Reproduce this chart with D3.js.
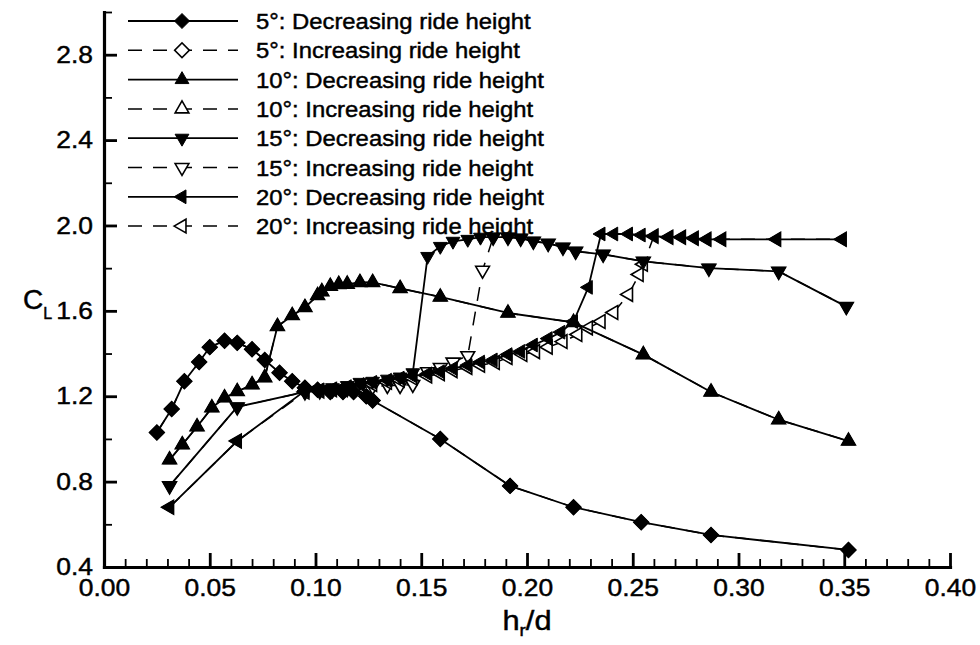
<!DOCTYPE html>
<html>
<head>
<meta charset="utf-8">
<script src="https://cdn.jsdelivr.net/npm/d3@7"></script>
<style>
  body { margin: 0; background: #fff; }
  svg { display: block; }
  text { font-family: "Liberation Sans", Arial, Helvetica, sans-serif; fill: #000; stroke: #000; stroke-width: 0.45px; }
</style>
</head>
<body>
<svg id="chart" width="980" height="645"></svg>
<script>
// Axis ticks
var x_ticks = [0.00, 0.05, 0.10, 0.15, 0.20, 0.25, 0.30, 0.35, 0.40];
var y_ticks = [0.4, 0.8, 1.2, 1.6, 2.0, 2.4, 2.8];
var y_minor = [0.6, 1.0, 1.4, 1.8, 2.2, 2.6, 3.0];

var legend_labels = [
  "5°: Decreasing ride height", "5°: Increasing ride height",
  "10°: Decreasing ride height", "10°: Increasing ride height",
  "15°: Decreasing ride height", "15°: Increasing ride height",
  "20°: Decreasing ride height", "20°: Increasing ride height"
];

// 5 deg
var h5_dec = [0.025, 0.032, 0.038, 0.045, 0.050, 0.057, 0.063, 0.070, 0.076, 0.083, 0.089, 0.095, 0.101, 0.107, 0.113, 0.118, 0.124, 0.127, 0.159, 0.192, 0.222, 0.254, 0.287, 0.352];
var cl5_dec = [1.03, 1.14, 1.27, 1.36, 1.43, 1.46, 1.45, 1.42, 1.37, 1.31, 1.27, 1.24, 1.23, 1.22, 1.22, 1.22, 1.20, 1.18, 1.00, 0.78, 0.68, 0.61, 0.55, 0.48];
var h5_inc = [0.025, 0.032, 0.038, 0.045, 0.050, 0.057, 0.063, 0.070, 0.076, 0.083, 0.089, 0.095, 0.101, 0.107, 0.113, 0.118, 0.124, 0.127, 0.159, 0.192, 0.222, 0.254, 0.287, 0.352];
var cl5_inc = [1.03, 1.14, 1.27, 1.36, 1.43, 1.46, 1.45, 1.42, 1.37, 1.31, 1.27, 1.24, 1.23, 1.22, 1.22, 1.22, 1.20, 1.18, 1.00, 0.78, 0.68, 0.61, 0.55, 0.48];

// 10 deg
var h10_dec = [0.352, 0.319, 0.287, 0.255, 0.222, 0.191, 0.159, 0.140, 0.127, 0.121, 0.115, 0.111, 0.107, 0.103, 0.101, 0.095, 0.089, 0.082, 0.076, 0.070, 0.063, 0.057, 0.051, 0.044, 0.037, 0.031];
var cl10_dec = [0.99, 1.09, 1.22, 1.395, 1.546, 1.59, 1.665, 1.705, 1.733, 1.733, 1.725, 1.724, 1.715, 1.69, 1.672, 1.616, 1.578, 1.527, 1.287, 1.254, 1.222, 1.193, 1.146, 1.057, 0.973, 0.902];
var h10_inc = [0.031, 0.037, 0.044, 0.051, 0.057, 0.063, 0.070, 0.076, 0.082, 0.089, 0.095, 0.101, 0.103, 0.107, 0.111, 0.115, 0.121, 0.127, 0.140, 0.159, 0.191, 0.222, 0.255, 0.287, 0.319, 0.352];
var cl10_inc = [0.902, 0.973, 1.057, 1.146, 1.193, 1.222, 1.254, 1.287, 1.527, 1.578, 1.616, 1.672, 1.69, 1.715, 1.724, 1.725, 1.733, 1.733, 1.705, 1.665, 1.59, 1.546, 1.395, 1.22, 1.09, 0.99];

// 15 deg
var h15_dec = [0.351, 0.319, 0.286, 0.255, 0.236, 0.223, 0.217, 0.210, 0.203, 0.197, 0.191, 0.184, 0.178, 0.172, 0.165, 0.159, 0.153, 0.146, 0.140, 0.134, 0.127, 0.121, 0.115, 0.108, 0.102, 0.095, 0.063, 0.031];
var cl15_dec = [1.62, 1.785, 1.80, 1.832, 1.865, 1.879, 1.898, 1.916, 1.926, 1.94, 1.945, 1.945, 1.945, 1.935, 1.926, 1.902, 1.855, 1.31, 1.29, 1.28, 1.27, 1.265, 1.25, 1.24, 1.23, 1.22, 1.15, 0.78];
var h15_inc = [0.031, 0.063, 0.095, 0.102, 0.108, 0.115, 0.121, 0.127, 0.134, 0.140, 0.146, 0.153, 0.159, 0.165, 0.172, 0.179, 0.184, 0.191, 0.197, 0.203, 0.210, 0.217, 0.223, 0.236, 0.255, 0.286, 0.319, 0.351];
var cl15_inc = [0.78, 1.15, 1.22, 1.225, 1.23, 1.235, 1.24, 1.245, 1.25, 1.25, 1.255, 1.315, 1.335, 1.36, 1.39, 1.79, 1.945, 1.945, 1.94, 1.926, 1.916, 1.898, 1.879, 1.865, 1.832, 1.80, 1.785, 1.62];

// 20 deg
var h20_dec = [0.349, 0.318, 0.292, 0.285, 0.279, 0.273, 0.267, 0.260, 0.254, 0.248, 0.241, 0.235, 0.229, 0.222, 0.216, 0.210, 0.203, 0.197, 0.191, 0.184, 0.178, 0.172, 0.165, 0.159, 0.153, 0.146, 0.140, 0.134, 0.127, 0.121, 0.115, 0.108, 0.102, 0.095, 0.063, 0.031];
var cl20_dec = [1.935, 1.935, 1.935, 1.935, 1.94, 1.945, 1.945, 1.95, 1.955, 1.96, 1.96, 1.96, 1.71, 1.55, 1.50, 1.47, 1.44, 1.41, 1.395, 1.37, 1.36, 1.345, 1.33, 1.315, 1.305, 1.295, 1.285, 1.275, 1.265, 1.255, 1.245, 1.235, 1.23, 1.225, 0.99, 0.68];
var h20_inc = [0.031, 0.063, 0.095, 0.102, 0.108, 0.115, 0.121, 0.127, 0.134, 0.140, 0.146, 0.153, 0.159, 0.165, 0.172, 0.178, 0.185, 0.191, 0.198, 0.204, 0.210, 0.217, 0.224, 0.229, 0.235, 0.241, 0.248, 0.253, 0.255, 0.260, 0.267, 0.273, 0.279, 0.285, 0.292, 0.318, 0.349];
var cl20_inc = [0.68, 0.99, 1.22, 1.225, 1.23, 1.235, 1.245, 1.255, 1.265, 1.275, 1.285, 1.295, 1.305, 1.32, 1.335, 1.345, 1.358, 1.381, 1.395, 1.409, 1.43, 1.456, 1.489, 1.52, 1.55, 1.592, 1.677, 1.77, 1.818, 1.95, 1.945, 1.945, 1.94, 1.935, 1.935, 1.935, 1.935];

// Series table, in legend order
var series = [
  {h: h5_dec,  cl: cl5_dec,  shape: 'diamond', open: false},
  {h: h5_inc,  cl: cl5_inc,  shape: 'diamond', open: true},
  {h: h10_dec, cl: cl10_dec, shape: 'up',      open: false},
  {h: h10_inc, cl: cl10_inc, shape: 'up',      open: true},
  {h: h15_dec, cl: cl15_dec, shape: 'down',    open: false},
  {h: h15_inc, cl: cl15_inc, shape: 'down',    open: true},
  {h: h20_dec, cl: cl20_dec, shape: 'left',    open: false},
  {h: h20_inc, cl: cl20_inc, shape: 'left',    open: true}
];

var dash = '14,11';

function marker_path(shape) {
  if (shape == 'diamond') return d3.symbol().type(d3.symbolSquare).size(108)();
  return d3.symbol().type(d3.symbolTriangle).size(82)();
}
var marker_rot = {diamond: 45, up: 0, down: 180, left: -90};

function build_chart() {
  var svg = d3.select('#chart');
  var margin = {top: 12, right: 30, bottom: 78, left: 104};
  var width = +svg.attr('width') - margin.left - margin.right;
  var height = +svg.attr('height') - margin.top - margin.bottom;

  var g = svg.append('g')
      .attr('transform', 'translate(' + margin.left + ',' + margin.top + ')');

  var x = d3.scaleLinear().domain([0, 0.40]).range([0, width]);
  var y = d3.scaleLinear().domain([0.4, 3.0]).range([height, 0]);

  // open series first so the filled ones sit on top
  series.filter(function(s) { return s.open; }).forEach(function(s) { add_series(g, s, x, y); });
  series.filter(function(s) { return !s.open; }).forEach(function(s) { add_series(g, s, x, y); });

  draw_axes(svg, g, x, y, width, height, margin);
  add_legend(svg);
}

function add_series(g, s, x, y) {
  var pts = s.h.map(function(h, i) { return [h, s.cl[i]]; });
  var line = d3.line()
      .x(function(d) { return x(d[0]); })
      .y(function(d) { return y(d[1]); });

  g.append('path')
      .attr('d', line(pts))
      .style('fill', 'none')
      .style('stroke', '#000')
      .style('stroke-width', s.open ? 1.5 : 1.8)
      .style('stroke-dasharray', s.open ? dash : null);

  g.selectAll(null)
      .data(pts)
      .enter().append('path')
      .attr('d', marker_path(s.shape))
      .attr('transform', function(d) {
        return 'translate(' + x(d[0]) + ',' + y(d[1]) + ') rotate(' + marker_rot[s.shape] + ')';
      })
      .style('fill', s.open ? '#fff' : '#000')
      .style('stroke', '#000')
      .style('stroke-width', s.open ? 1.6 : 1);
}

function draw_axes(svg, g, x, y, width, height, margin) {
  var x_minor = d3.range(0, 41).map(function(i) { return i / 100; })
      .filter(function(v, i) { return i % 5 != 0; });

  // minor ticks
  g.append('g')
      .attr('transform', 'translate(0,' + height + ')')
      .call(d3.axisBottom(x).tickValues(x_minor).tickSize(-8).tickFormat(''))
      .call(function(a) { a.select('.domain').remove(); a.selectAll('line').style('stroke-width', 1.8); });
  g.append('g')
      .call(d3.axisLeft(y).tickValues(y_minor).tickSize(-8).tickFormat(''))
      .call(function(a) { a.select('.domain').remove(); a.selectAll('line').style('stroke-width', 1.8); });

  // major ticks + labels
  var xa = g.append('g')
      .attr('transform', 'translate(0,' + height + ')')
      .call(d3.axisBottom(x).tickValues(x_ticks).tickSize(-14).tickSizeOuter(0)
            .tickPadding(12).tickFormat(d3.format('.2f')));
  var ya = g.append('g')
      .call(d3.axisLeft(y).tickValues(y_ticks).tickSize(-13).tickSizeOuter(0)
            .tickPadding(10).tickFormat(d3.format('.1f')));

  [xa, ya].forEach(function(a) {
    a.select('.domain').style('stroke-width', 3.2).style('stroke-linecap', 'square');
    a.selectAll('line').style('stroke-width', 2.8);
    a.selectAll('text')
        .style('font-size', '24px')
        .style('font-family', '"Liberation Sans", Arial, sans-serif')
        .attr('fill', '#000')
        .attr('transform', 'scale(1.1,1)');
  });

  // Y title: C_L
  var yt = svg.append('text')
      .attr('transform', 'translate(23,309)')
      .style('font-size', '28px');
  yt.append('tspan').text('C');
  yt.append('tspan').attr('dy', 10).style('font-size', '16px').text('L');

  // X title: h_r/d
  var xt = svg.append('text')
      .attr('transform', 'translate(' + (margin.left + x(0.20)) + ',630) scale(1.1,1)')
      .attr('text-anchor', 'middle')
      .style('font-size', '28px');
  xt.append('tspan').text('h');
  xt.append('tspan').attr('dy', 6).style('font-size', '17px').text('r');
  xt.append('tspan').attr('dy', -6).text('/d');
}

function add_legend(svg) {
  var row0 = 21, step = 29.3;
  var lg = svg.append('g').attr('class', 'legend');

  series.forEach(function(s, i) {
    var yy = row0 + i * step;
    lg.append('line')
        .attr('x1', 128).attr('x2', 238)
        .attr('y1', yy).attr('y2', yy)
        .style('stroke', '#000')
        .style('stroke-width', s.open ? 1.5 : 1.8)
        .style('stroke-dasharray', s.open ? dash : null);

    lg.append('path')
        .attr('d', marker_path(s.shape))
        .attr('transform', 'translate(182,' + yy + ') rotate(' + marker_rot[s.shape] + ')')
        .style('fill', s.open ? '#fff' : '#000')
        .style('stroke', '#000')
        .style('stroke-width', s.open ? 1.6 : 1);

    lg.append('text')
        .attr('transform', 'translate(256,' + yy + ') scale(1.06,1)')
        .attr('dy', '0.36em')
        .style('font-size', '22.5px')
        .text(legend_labels[i]);
  });
}

build_chart();
</script>
</body>
</html>
